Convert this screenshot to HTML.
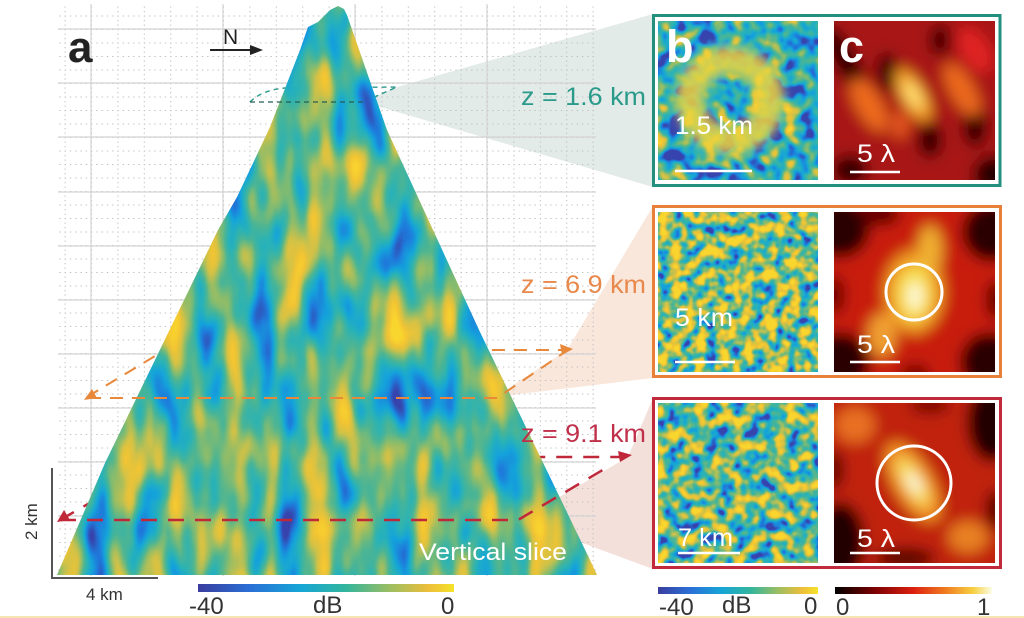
<!DOCTYPE html>
<html><head><meta charset="utf-8">
<style>
html,body{margin:0;padding:0;background:#fff;}
svg{display:block;}
text{font-family:"Liberation Sans",Arial,sans-serif;}
</style></head>
<body>
<svg width="1024" height="618" viewBox="0 0 1024 618" xmlns="http://www.w3.org/2000/svg">
<defs>
  <filter id="fTri" x="0" y="0" width="1024" height="618" filterUnits="userSpaceOnUse" color-interpolation-filters="sRGB">
    <feTurbulence type="fractalNoise" baseFrequency="0.036 0.014" numOctaves="2" seed="4"/>
    <feColorMatrix type="matrix" values="1.5 0 0 0 -0.24  1.5 0 0 0 -0.24  1.5 0 0 0 -0.24  0 0 0 0 1"/>
    <feComponentTransfer>
      <feFuncR type="table" tableValues="0.22 0.12 0.08 0.16 0.30 0.55 0.82 0.95 0.98"/>
      <feFuncG type="table" tableValues="0.27 0.48 0.64 0.70 0.71 0.74 0.76 0.77 0.84"/>
      <feFuncB type="table" tableValues="0.68 0.86 0.86 0.72 0.58 0.42 0.28 0.20 0.18"/>
    </feComponentTransfer>
  </filter>
  <filter id="fB1" x="0" y="0" width="1024" height="618" filterUnits="userSpaceOnUse" color-interpolation-filters="sRGB">
    <feTurbulence type="fractalNoise" baseFrequency="0.06 0.06" numOctaves="2" seed="7"/>
    <feColorMatrix type="matrix" values="1.9 0 0 0 -0.6  1.9 0 0 0 -0.6  1.9 0 0 0 -0.6  0 0 0 0 1"/>
    <feComponentTransfer>
      <feFuncR type="table" tableValues="0.22 0.12 0.08 0.16 0.30 0.55 0.82 0.95 0.98"/>
      <feFuncG type="table" tableValues="0.27 0.48 0.64 0.70 0.71 0.74 0.76 0.77 0.84"/>
      <feFuncB type="table" tableValues="0.68 0.86 0.86 0.72 0.58 0.42 0.28 0.20 0.18"/>
    </feComponentTransfer>
  </filter>
  <filter id="fB2" x="0" y="0" width="1024" height="618" filterUnits="userSpaceOnUse" color-interpolation-filters="sRGB">
    <feTurbulence type="fractalNoise" baseFrequency="0.085 0.085" numOctaves="2" seed="11"/>
    <feColorMatrix type="matrix" values="2.2 0 0 0 -0.5  2.2 0 0 0 -0.5  2.2 0 0 0 -0.5  0 0 0 0 1"/>
    <feComponentTransfer>
      <feFuncR type="table" tableValues="0.22 0.12 0.08 0.16 0.30 0.55 0.82 0.95 0.98"/>
      <feFuncG type="table" tableValues="0.27 0.48 0.64 0.70 0.71 0.74 0.76 0.77 0.84"/>
      <feFuncB type="table" tableValues="0.68 0.86 0.86 0.72 0.58 0.42 0.28 0.20 0.18"/>
    </feComponentTransfer>
  </filter>
  <filter id="fB3" x="0" y="0" width="1024" height="618" filterUnits="userSpaceOnUse" color-interpolation-filters="sRGB">
    <feTurbulence type="fractalNoise" baseFrequency="0.075 0.075" numOctaves="2" seed="5"/>
    <feColorMatrix type="matrix" values="2.2 0 0 0 -0.58  2.2 0 0 0 -0.58  2.2 0 0 0 -0.58  0 0 0 0 1"/>
    <feComponentTransfer>
      <feFuncR type="table" tableValues="0.22 0.12 0.08 0.16 0.30 0.55 0.82 0.95 0.98"/>
      <feFuncG type="table" tableValues="0.27 0.48 0.64 0.70 0.71 0.74 0.76 0.77 0.84"/>
      <feFuncB type="table" tableValues="0.68 0.86 0.86 0.72 0.58 0.42 0.28 0.20 0.18"/>
    </feComponentTransfer>
  </filter>
  <filter id="blur6" x="-50%" y="-50%" width="200%" height="200%"><feGaussianBlur stdDeviation="7"/></filter>
  <filter id="blur4" x="-50%" y="-50%" width="200%" height="200%"><feGaussianBlur stdDeviation="5"/></filter>

  <clipPath id="triClip">
    <path d="M57,575 L105,463 L218,230 L237,197 L270,127 L300,50 L308,27 L318,22 L330,10 L338,6 L344,9 L347,15 L387,130 L480,332 L590,560 L597,575 Z"/>
  </clipPath>
  <clipPath id="cb1"><rect x="658" y="21" width="160" height="159"/></clipPath>
  <clipPath id="cc1"><rect x="834" y="21" width="161" height="159"/></clipPath>
  <clipPath id="cb2"><rect x="658" y="212" width="160" height="160"/></clipPath>
  <clipPath id="cc2"><rect x="834" y="212" width="161" height="160"/></clipPath>
  <clipPath id="cb3"><rect x="658" y="403" width="160" height="160"/></clipPath>
  <clipPath id="cc3"><rect x="834" y="403" width="161" height="160"/></clipPath>

  <linearGradient id="gDB" x1="0" x2="1" y1="0" y2="0">
    <stop offset="0" stop-color="#3a3d9e"/>
    <stop offset="0.2" stop-color="#2a6fd6"/>
    <stop offset="0.4" stop-color="#16a6d6"/>
    <stop offset="0.58" stop-color="#33b59c"/>
    <stop offset="0.75" stop-color="#9cbe62"/>
    <stop offset="0.9" stop-color="#edbe3a"/>
    <stop offset="1" stop-color="#f5e22a"/>
  </linearGradient>
  <linearGradient id="gHeat" x1="0" x2="1" y1="0" y2="0">
    <stop offset="0" stop-color="#000000"/>
    <stop offset="0.25" stop-color="#7a0000"/>
    <stop offset="0.5" stop-color="#dc2010"/>
    <stop offset="0.7" stop-color="#f07a20"/>
    <stop offset="0.88" stop-color="#f6d040"/>
    <stop offset="1" stop-color="#fcfce8"/>
  </linearGradient>

  <pattern id="minor" patternUnits="userSpaceOnUse" x="91" y="29" width="26.4" height="13.5">
    <line x1="0" y1="0.5" x2="26.4" y2="0.5" stroke="#bcbcbc" stroke-width="1" stroke-dasharray="1.3 3.98"/>
    <line x1="0.5" y1="0" x2="0.5" y2="13.5" stroke="#bcbcbc" stroke-width="1" stroke-dasharray="1.2 3.3"/>
  </pattern>
</defs>

<rect width="1024" height="618" fill="#ffffff"/>

<!-- fans -->
<polygon points="397,87 653,14 653,187 363,102" fill="#e3ebe9"/>
<polygon points="567,350 653,206 653,378 495,397" fill="#f9e7dc"/>
<polygon points="628,457 653,398 653,569 520,520" fill="#f4e0da"/>

<!-- grid -->
<rect x="58" y="4" width="538" height="572" fill="url(#minor)"/>
<g stroke="#d4d4d4" stroke-width="1.2">
  <line x1="91" y1="4" x2="91" y2="576"/>
  <line x1="223" y1="4" x2="223" y2="576"/>
  <line x1="355" y1="4" x2="355" y2="576"/>
  <line x1="487" y1="4" x2="487" y2="576"/>
  <line x1="58" y1="29" x2="596" y2="29"/>
  <line x1="58" y1="83" x2="596" y2="83"/>
  <line x1="58" y1="137" x2="596" y2="137"/>
  <line x1="58" y1="192" x2="596" y2="192"/>
  <line x1="58" y1="246" x2="596" y2="246"/>
  <line x1="58" y1="300" x2="596" y2="300"/>
  <line x1="58" y1="354" x2="596" y2="354"/>
  <line x1="58" y1="408" x2="596" y2="408"/>
  <line x1="58" y1="462" x2="596" y2="462"/>
  <line x1="58" y1="516" x2="596" y2="516"/>
  <line x1="58" y1="570" x2="596" y2="570"/>
</g>

<!-- back dashed lines -->
<path d="M250,102 Q262,90 285,88 L397,87 L363,102" fill="none" stroke="#2a9a8a" stroke-width="1.4" stroke-dasharray="5 4"/>
<path d="M87,397 L165,350 L566,350" fill="none" stroke="#e8883a" stroke-width="2" stroke-dasharray="13 9"/>
<path d="M60,520 L170,457 L624,457" fill="none" stroke="#c0283a" stroke-width="2.5" stroke-dasharray="16 11"/>

<!-- vertical slice -->
<rect x="50" y="0" width="560" height="580" filter="url(#fTri)" clip-path="url(#triClip)"/>

<!-- front dashed lines -->
<line x1="250" y1="102" x2="363" y2="102" stroke="#245e56" stroke-width="1.2" stroke-dasharray="5 4"/>
<path d="M88,398 L497,398 L562,354" fill="none" stroke="#e8883a" stroke-width="2" stroke-dasharray="13 9"/>
<path d="M60,520 L518,520 L606,468" fill="none" stroke="#c0283a" stroke-width="2.5" stroke-dasharray="16 11"/>
<!-- arrowheads -->
<polygon points="573,349 560,344 562,355" fill="#e8883a"/>
<polygon points="84,400 92,389 97,398" fill="#e8883a"/>
<polygon points="632,455 618,451 620,462" fill="#c0283a"/>
<polygon points="57,522 64,510 70,520" fill="#c0283a"/>

<!-- labels left -->
<text x="68" y="62" font-size="44" font-weight="bold" fill="#222">a</text>
<text x="223" y="44" font-size="21" fill="#222">N</text>
<line x1="210" y1="50" x2="252" y2="50" stroke="#222" stroke-width="2"/>
<polygon points="263,50 250,45 250,55" fill="#222"/>

<text x="521" y="105" font-size="25" fill="#2a9a8a" textLength="125" lengthAdjust="spacingAndGlyphs">z = 1.6 km</text>
<text x="521" y="293" font-size="25" fill="#e8884a" textLength="125" lengthAdjust="spacingAndGlyphs">z = 6.9 km</text>
<text x="521" y="442" font-size="25" fill="#c0304a" textLength="125" lengthAdjust="spacingAndGlyphs">z = 9.1 km</text>

<text x="419" y="560" font-size="24" fill="#ffffff" textLength="148" lengthAdjust="spacingAndGlyphs">Vertical slice</text>

<polyline points="52,468 52,578 158,578" fill="none" stroke="#555" stroke-width="2"/>
<text transform="translate(37,540) rotate(-90)" font-size="17" fill="#333">2 km</text>
<text x="86" y="600" font-size="17" fill="#333">4 km</text>

<rect x="198" y="584" width="256" height="8" fill="url(#gDB)"/>
<text x="189" y="614" font-size="24" fill="#333">-40</text>
<text x="313" y="613" font-size="24" fill="#333">dB</text>
<text x="441" y="614" font-size="24" fill="#333">0</text>

<!-- Panel 1 (teal) -->
<rect x="653.5" y="15.5" width="346.5" height="170" fill="#fff" stroke="#23907f" stroke-width="3"/>
<g clip-path="url(#cb1)">
  <rect x="650" y="15" width="175" height="170" filter="url(#fB1)"/>
  <circle cx="730" cy="100" r="40" fill="none" stroke="#eed43c" stroke-width="28" opacity="0.85" filter="url(#blur4)"/>
</g>
<g clip-path="url(#cc1)">
  <g filter="url(#blur6)">
    <rect x="810" y="0" width="210" height="200" fill="#a81212"/>
    <ellipse cx="845" cy="60" rx="12" ry="40" transform="rotate(-30 845 60)" fill="#300000"/>
    <ellipse cx="887" cy="72" rx="10" ry="20" fill="#300000"/>
    <ellipse cx="930" cy="140" rx="12" ry="18" fill="#300000"/>
    <ellipse cx="975" cy="125" rx="12" ry="22" fill="#300000"/>
    <ellipse cx="940" cy="40" rx="10" ry="16" fill="#400000"/>
    <ellipse cx="850" cy="170" rx="18" ry="15" fill="#300000"/>
    <ellipse cx="995" cy="175" rx="22" ry="20" fill="#280000"/>
    <ellipse cx="869" cy="105" rx="13" ry="30" transform="rotate(-30 869 105)" fill="#ec6a1e"/>
    <ellipse cx="962" cy="90" rx="12" ry="30" transform="rotate(-30 962 90)" fill="#ec6a1e"/>
    <ellipse cx="900" cy="125" rx="8" ry="14" fill="#e85a1e"/>
    <ellipse cx="975" cy="50" rx="14" ry="25" transform="rotate(-30 975 50)" fill="#e02020"/>
    <ellipse cx="913" cy="95" rx="12" ry="30" transform="rotate(-30 913 95)" fill="#f6a020"/>
    <ellipse cx="913" cy="95" rx="6" ry="16" transform="rotate(-30 913 95)" fill="#ffe878"/>
  </g>
</g>
<text x="666" y="62" font-size="45" font-weight="bold" fill="#fff">b</text>
<text x="839" y="62" font-size="45" font-weight="bold" fill="#fff">c</text>
<text x="675" y="134" font-size="25" fill="#fff" textLength="78" lengthAdjust="spacingAndGlyphs">1.5 km</text>
<line x1="675" y1="171" x2="752" y2="171" stroke="#fff" stroke-width="2.5"/>
<text x="857" y="162" font-size="25" fill="#fff" textLength="38" lengthAdjust="spacingAndGlyphs">5 λ</text>
<line x1="850" y1="172" x2="900" y2="172" stroke="#fff" stroke-width="2.5"/>

<!-- Panel 2 (orange) -->
<rect x="653.5" y="206.5" width="347" height="170" fill="#fff" stroke="#e8803a" stroke-width="3"/>
<g clip-path="url(#cb2)">
  <rect x="650" y="205" width="175" height="175" filter="url(#fB2)"/>
</g>
<g clip-path="url(#cc2)">
  <g filter="url(#blur6)">
    <rect x="810" y="190" width="210" height="200" fill="#c81c10"/>
    <circle cx="840" cy="228" r="30" fill="#2a0000"/>
    <circle cx="992" cy="232" r="30" fill="#2a0000"/>
    <circle cx="840" cy="362" r="30" fill="#2a0000"/>
    <circle cx="990" cy="362" r="30" fill="#2a0000"/>
    <ellipse cx="880" cy="214" rx="20" ry="12" fill="#600000"/>
    <ellipse cx="915" cy="374" rx="15" ry="10" fill="#700000"/>
    <ellipse cx="835" cy="295" rx="10" ry="20" fill="#700000"/>
    <ellipse cx="996" cy="300" rx="10" ry="20" fill="#600000"/>
    <ellipse cx="914" cy="292" rx="30" ry="42" fill="#ef9a20"/>
    <ellipse cx="930" cy="250" rx="12" ry="25" fill="#f0b030"/>
    <ellipse cx="882" cy="335" rx="14" ry="22" fill="#f0a030"/>
    <ellipse cx="914" cy="294" rx="18" ry="28" fill="#f8e050"/>
    <ellipse cx="915" cy="296" rx="6" ry="14" fill="#fffff0"/>
  </g>
</g>
<circle cx="914" cy="292" r="28" fill="none" stroke="#fff" stroke-width="3"/>
<text x="675" y="326" font-size="25" fill="#fff" textLength="58" lengthAdjust="spacingAndGlyphs">5 km</text>
<line x1="675" y1="362" x2="735" y2="362" stroke="#fff" stroke-width="2.5"/>
<text x="857" y="353" font-size="25" fill="#fff" textLength="38" lengthAdjust="spacingAndGlyphs">5 λ</text>
<line x1="850" y1="362" x2="900" y2="362" stroke="#fff" stroke-width="2.5"/>

<!-- Panel 3 (red) -->
<rect x="653.5" y="398.5" width="347" height="169" fill="#fff" stroke="#c02a3a" stroke-width="3"/>
<g clip-path="url(#cb3)">
  <rect x="650" y="395" width="175" height="175" filter="url(#fB3)"/>
</g>
<g clip-path="url(#cc3)">
  <g filter="url(#blur6)">
    <rect x="810" y="380" width="210" height="200" fill="#c02010"/>
    <ellipse cx="992" cy="422" rx="25" ry="40" fill="#200000"/>
    <ellipse cx="840" cy="542" rx="25" ry="40" fill="#200000"/>
    <ellipse cx="905" cy="558" rx="30" ry="10" fill="#500000"/>
    <ellipse cx="835" cy="470" rx="8" ry="20" fill="#500000"/>
    <ellipse cx="930" cy="405" rx="20" ry="8" fill="#700000"/>
    <ellipse cx="996" cy="510" rx="10" ry="20" fill="#500000"/>
    <ellipse cx="855" cy="425" rx="20" ry="18" fill="#e87020"/>
    <ellipse cx="968" cy="537" rx="20" ry="16" fill="#e88020"/>
    <ellipse cx="913" cy="482" rx="20" ry="45" transform="rotate(-30 913 482)" fill="#f09020"/>
    <ellipse cx="913" cy="482" rx="10" ry="28" transform="rotate(-30 913 482)" fill="#f8e060"/>
    <ellipse cx="914" cy="483" rx="4" ry="12" transform="rotate(-30 914 483)" fill="#ffffff"/>
  </g>
</g>
<circle cx="914" cy="483" r="37" fill="none" stroke="#fff" stroke-width="3"/>
<text x="678" y="546" font-size="25" fill="#fff" textLength="55" lengthAdjust="spacingAndGlyphs">7 km</text>
<line x1="678" y1="553" x2="740" y2="553" stroke="#fff" stroke-width="2.5"/>
<text x="857" y="547" font-size="25" fill="#fff" textLength="38" lengthAdjust="spacingAndGlyphs">5 λ</text>
<line x1="850" y1="553" x2="900" y2="553" stroke="#fff" stroke-width="2.5"/>

<!-- bottom right colorbars -->
<rect x="658" y="587" width="160" height="7" fill="url(#gDB)"/>
<rect x="835" y="587" width="157" height="7" fill="url(#gHeat)"/>
<text x="659" y="615" font-size="24" fill="#333">-40</text>
<text x="722" y="613" font-size="24" fill="#333">dB</text>
<text x="804" y="614" font-size="24" fill="#333">0</text>
<text x="836" y="615" font-size="24" fill="#333">0</text>
<text x="977" y="615" font-size="24" fill="#333">1</text>

<rect x="0" y="616" width="1024" height="2" fill="#f4e4b0"/>
</svg>
</body></html>
